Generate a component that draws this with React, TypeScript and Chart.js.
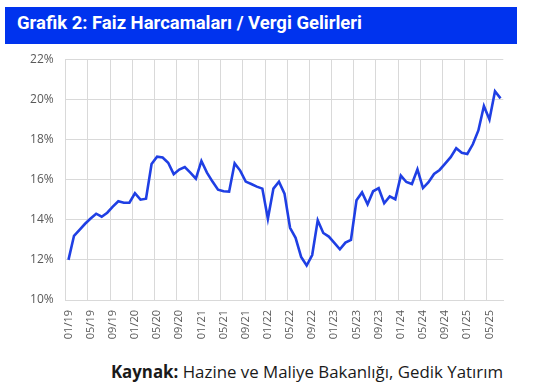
import React, { useEffect, useLayoutEffect, useRef } from 'react';
import { Chart, registerables } from 'chart.js';

Chart.register(...registerables);

const TITLE = 'Grafik 2: Faiz Harcamaları / Vergi Gelirleri';
const SOURCE_BOLD = 'Kaynak:';
const SOURCE_TEXT = ' Hazine ve Maliye Bakanlığı, Gedik Yatırım';

const months = [
  '01/19', '02/19', '03/19', '04/19', '05/19', '06/19', '07/19', '08/19', '09/19', '10/19', '11/19', '12/19',
  '01/20', '02/20', '03/20', '04/20', '05/20', '06/20', '07/20', '08/20', '09/20', '10/20', '11/20', '12/20',
  '01/21', '02/21', '03/21', '04/21', '05/21', '06/21', '07/21', '08/21', '09/21', '10/21', '11/21', '12/21',
  '01/22', '02/22', '03/22', '04/22', '05/22', '06/22', '07/22', '08/22', '09/22', '10/22', '11/22', '12/22',
  '01/23', '02/23', '03/23', '04/23', '05/23', '06/23', '07/23', '08/23', '09/23', '10/23', '11/23', '12/23',
  '01/24', '02/24', '03/24', '04/24', '05/24', '06/24', '07/24', '08/24', '09/24', '10/24', '11/24', '12/24',
  '01/25', '02/25', '03/25', '04/25', '05/25', '06/25', '07/25',
];

// Faiz harcamaları / vergi gelirleri (%)
const ratio = [
  12.0, 13.2, 13.5, 13.8, 14.06, 14.3, 14.15, 14.35, 14.65, 14.92, 14.85, 14.85,
  15.32, 15.0, 15.05, 16.78, 17.14, 17.1, 16.84, 16.27, 16.5, 16.62, 16.35, 16.05,
  16.93, 16.35, 15.9, 15.5, 15.42, 15.4, 16.81, 16.45, 15.9, 15.78, 15.65, 15.55,
  14.05, 15.55, 15.9, 15.3, 13.6, 13.1, 12.15, 11.72, 12.24, 13.97, 13.34, 13.16,
  12.85, 12.53, 12.86, 13.0, 14.97, 15.36, 14.77, 15.42, 15.57, 14.82, 15.16, 15.02,
  16.2, 15.88, 15.78, 16.51, 15.58, 15.87, 16.28, 16.48, 16.8, 17.12, 17.56, 17.34,
  17.28, 17.76, 18.45, 19.67, 19.0, 20.4, 20.05,
];

const Y_MIN = 10;
const Y_MAX = 22;
const Y_STEP = 2;
const LABEL_EVERY = 4;

export default function App() {
  const canvasRef = useRef<HTMLCanvasElement>(null);
  const titleRef = useRef<HTMLSpanElement>(null);

  useLayoutEffect(() => {
    const el = titleRef.current;
    if (el) {
      const w = el.getBoundingClientRect().width;
      if (w > 0) el.style.transform = `scaleX(${345 / w})`;
    }
  }, []);

  useEffect(() => {
    const canvas = canvasRef.current;
    if (!canvas) return;
    const chart = new Chart(canvas, {
      type: 'line',
      data: {
        labels: months,
        datasets: [
          {
            data: ratio,
            borderColor: '#1f3fe4',
            borderWidth: 2.6,
            pointRadius: 0,
            tension: 0,
            fill: false,
          },
        ],
      },
      options: {
        animation: false,
        responsive: false,
        maintainAspectRatio: false,
        layout: { padding: { top: 9.3, right: 33.7, left: 0, bottom: 0 } },
        plugins: { legend: { display: false }, tooltip: { enabled: false } },
        scales: {
          x: {
            type: 'category',
            offset: true,
            grid: {
              offset: true,
              drawTicks: false,
              lineWidth: 1,
              color: (ctx: any) => (ctx.index % LABEL_EVERY === 0 ? '#d9d9d9' : 'rgba(0,0,0,0)'),
            },
            border: { color: '#d9d9d9' },
            ticks: {
              autoSkip: false,
              maxRotation: 90,
              minRotation: 90,
              padding: 10,
              color: '#595959',
              font: { family: 'Open Sans', size: 11 },
              callback: (_v: any, i: number) => (i % LABEL_EVERY === 0 ? months[i] : ''),
            },
            afterFit: (s: any) => {
              s.height = 50;
            },
          },
          y: {
            min: Y_MIN,
            max: Y_MAX,
            grid: { color: '#d9d9d9', drawTicks: false, lineWidth: 1 },
            border: { color: '#d9d9d9' },
            ticks: {
              stepSize: Y_STEP,
              padding: 12,
              color: '#595959',
              font: { family: 'Open Sans', size: 12 },
              callback: (v: any) => `${v}%`,
            },
            afterFit: (s: any) => {
              s.width = 65.7;
            },
          },
        },
      },
    });
    return () => chart.destroy();
  }, []);

  return (
    <div
      style={{
        position: 'fixed',
        left: 0,
        top: 0,
        width: 537,
        height: 391,
        background: '#ffffff',
        overflow: 'hidden',
      }}
    >
      <div
        style={{
          position: 'absolute',
          left: 5,
          top: 7,
          width: 512,
          height: 37,
          background: '#0033ee',
        }}
      />
      <span
        ref={titleRef}
        style={{
          position: 'absolute',
          left: 17,
          top: 11.6,
          fontFamily: 'Roboto, sans-serif',
          fontWeight: 700,
          fontSize: 18,
          color: '#ffffff',
          whiteSpace: 'nowrap',
          transformOrigin: 'left top',
          display: 'inline-block',
        }}
      >
        {TITLE}
      </span>
      <canvas
        ref={canvasRef}
        width={537}
        height={310}
        style={{ position: 'absolute', left: 0, top: 40, width: 537, height: 310, display: 'block' }}
      />
      <div
        style={{
          position: 'absolute',
          right: 34,
          top: 360.3,
          fontFamily: '"Open Sans", sans-serif',
          fontSize: 16.85,
          color: '#1a1a1a',
          whiteSpace: 'nowrap',
        }}
      >
        <b>{SOURCE_BOLD}</b>
        {SOURCE_TEXT}
      </div>
    </div>
  );
}
